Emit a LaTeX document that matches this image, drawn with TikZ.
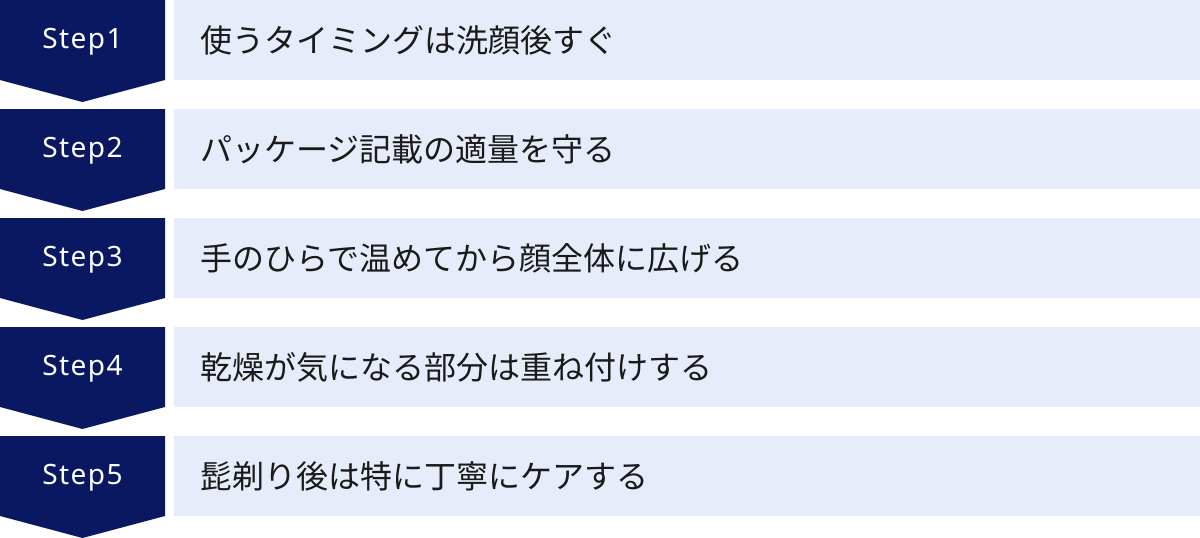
\documentclass[tikz,border=0pt]{standalone}
\usepackage{fontspec}
\setmainfont{Noto Sans CJK JP}
\newfontfamily\stepfont[LetterSpace=5]{Noto Sans}
\definecolor{navy}{HTML}{0A1862}
\definecolor{pale}{HTML}{E6ECF9}
\definecolor{ink}{HTML}{1A1A1A}
\tikzset{
  chev/.style={fill=navy,draw=none},
  band/.style={fill=pale,draw=none},
  steplabel/.style={text=white,font=\stepfont\fontsize{28}{33}\selectfont,inner sep=0pt},
  bandtext/.style={text=ink,font=\fontsize{32}{38}\selectfont,anchor=west,inner sep=0pt}
}
\begin{document}
\begin{tikzpicture}[x=1pt,y=1pt]
\useasboundingbox (0,0) rectangle (1200,-538);
\foreach \i/\txt in {1/使うタイミングは洗顔後すぐ,2/パッケージ記載の適量を守る,3/手のひらで温めてから顔全体に広げる,4/乾燥が気になる部分は重ね付けする,5/髭剃り後は特に丁寧にケアする}{
  \pgfmathsetmacro{\t}{-109*(\i-1)}
  \fill[chev] (0,\t) -- (165,\t) -- (165,\t-80) -- (82.5,\t-102) -- (0,\t-80) -- cycle;
  \fill[band] (174,\t) rectangle (1200,\t-80);
  \node[steplabel] (s\i) at (82.5,\t-42) {Step\i};
  \node[bandtext] (t\i) at (200,\t-40) {\txt};
}
\end{tikzpicture}
\end{document}
